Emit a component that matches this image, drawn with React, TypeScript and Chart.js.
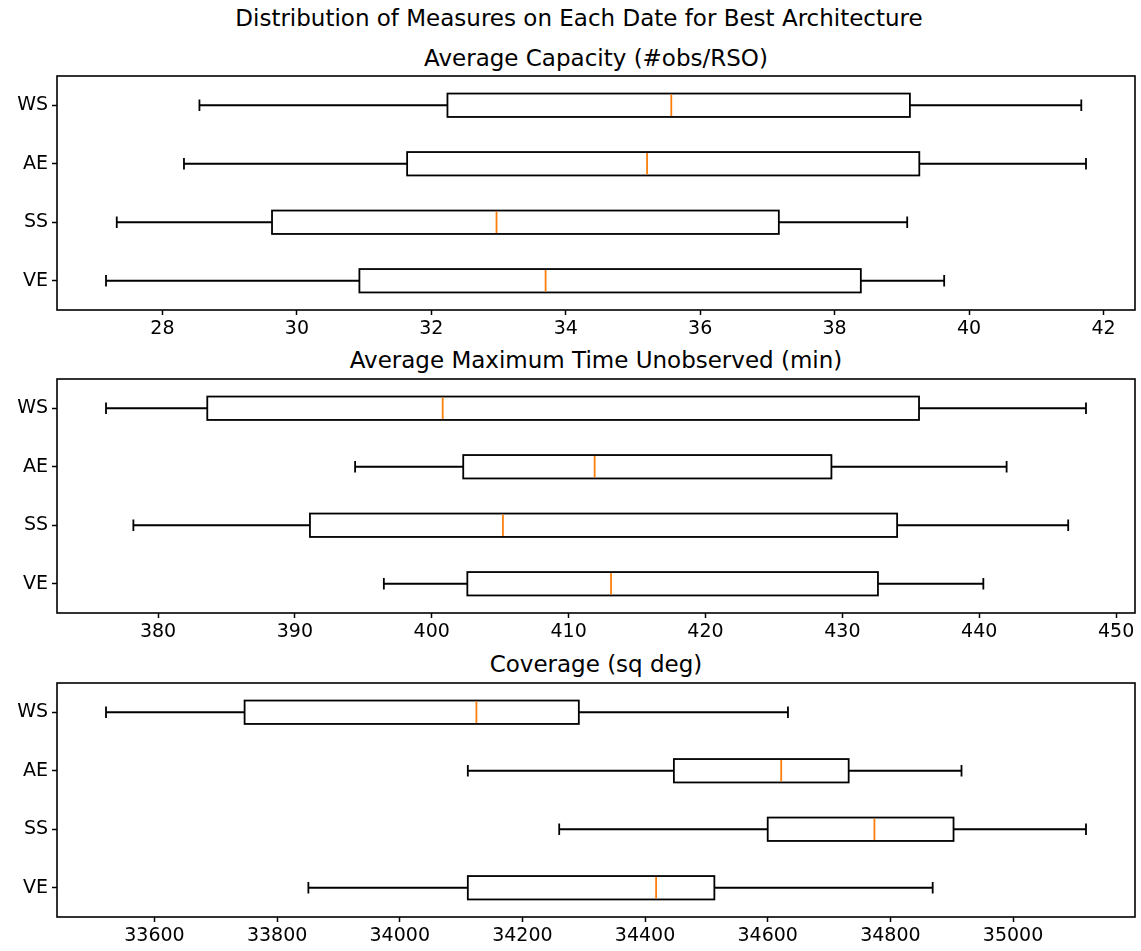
import React, { useEffect, useRef } from 'react';
import { Chart, registerables } from 'chart.js';

Chart.register(...registerables);

const CATEGORIES = ['WS', 'AE', 'SS', 'VE'];

// Average Capacity (#obs/RSO)
const CAP_MIN = [28.55, 28.32, 27.32, 27.16];
const CAP_Q1 = [32.24, 31.64, 29.63, 30.93];
const CAP_MED = [35.57, 35.21, 32.97, 33.7];
const CAP_Q3 = [39.12, 39.26, 37.17, 38.39];
const CAP_MAX = [41.67, 41.74, 39.08, 39.63];
const CAP_TICKS = [28, 30, 32, 34, 36, 38, 40, 42];

// Average Maximum Time Unobserved (min)
const MTU_MIN = [376.2, 394.4, 378.2, 396.5];
const MTU_Q1 = [383.6, 402.3, 391.1, 402.6];
const MTU_MED = [400.8, 411.9, 405.2, 413.1];
const MTU_Q3 = [435.6, 429.2, 434.0, 432.6];
const MTU_MAX = [447.8, 442.0, 446.5, 440.3];
const MTU_TICKS = [380, 390, 400, 410, 420, 430, 440, 450];

// Coverage (sq deg)
const COV_MIN = [33521, 34111, 34260, 33851];
const COV_Q1 = [33747, 34447, 34600, 34111];
const COV_MED = [34125, 34622, 34774, 34418];
const COV_Q3 = [34292, 34732, 34903, 34513];
const COV_MAX = [34633, 34916, 35119, 34869];
const COV_TICKS = [33600, 33800, 34000, 34200, 34400, 34600, 34800, 35000];

const SUPTITLE = 'Distribution of Measures on Each Date for Best Architecture';
const TITLES = ['Average Capacity (#obs/RSO)', 'Average Maximum Time Unobserved (min)', 'Coverage (sq deg)'];

const FIG_W = 1141;
const FIG_H = 951;
const AX_LEFT = 57;
const AX_RIGHT = 1135;
const AX_H = 234;
const PAD_TOP = 4;
const XAXIS_H = 40;
const PANEL_TOPS = [76, 379, 683];
const TITLE_CENTERS = [58, 360, 664];
const FONT = '"DejaVu Sans", sans-serif';
const TICK_SIZE = 19;
const TITLE_SIZE = 23;
const LINE_W = 1.8;

type PanelProps = {
  top: number;
  mins: number[];
  q1: number[];
  med: number[];
  q3: number[];
  maxs: number[];
  ticks: number[];
};

function Panel({ top, mins, q1, med, q3, maxs, ticks }: PanelProps) {
  const ref = useRef<HTMLCanvasElement | null>(null);
  const h = AX_H + PAD_TOP + XAXIS_H;

  useEffect(() => {
    if (!ref.current) return;
    const lo = Math.min(...mins);
    const hi = Math.max(...maxs);
    const margin = (hi - lo) * 0.05;

    const boxPlugin = {
      id: 'boxExtras',
      afterDatasetsDraw(chart: any) {
        const ctx = chart.ctx;
        const xs = chart.scales.x;
        const ys = chart.scales.y;
        const meta = chart.getDatasetMeta(0);
        ctx.save();
        for (let i = 0; i < CATEGORIES.length; i++) {
          const y = ys.getPixelForValue(i);
          const half = meta.data[i].height / 2;
          const capHalf = half / 2;
          const xMin = xs.getPixelForValue(mins[i]);
          const xQ1 = xs.getPixelForValue(q1[i]);
          const xQ3 = xs.getPixelForValue(q3[i]);
          const xMax = xs.getPixelForValue(maxs[i]);
          const xMed = xs.getPixelForValue(med[i]);
          ctx.strokeStyle = '#000';
          ctx.lineWidth = LINE_W;
          ctx.beginPath();
          ctx.moveTo(xMin, y);
          ctx.lineTo(xQ1, y);
          ctx.moveTo(xQ3, y);
          ctx.lineTo(xMax, y);
          ctx.moveTo(xMin, y - capHalf);
          ctx.lineTo(xMin, y + capHalf);
          ctx.moveTo(xMax, y - capHalf);
          ctx.lineTo(xMax, y + capHalf);
          ctx.stroke();
          ctx.strokeRect(xQ1, y - half, xQ3 - xQ1, 2 * half);
          ctx.strokeStyle = '#ff7f0e';
          ctx.beginPath();
          ctx.moveTo(xMed, y - half + LINE_W / 2);
          ctx.lineTo(xMed, y + half - LINE_W / 2);
          ctx.stroke();
        }
        const a = chart.chartArea;
        ctx.strokeStyle = '#000';
        ctx.lineWidth = 1.6;
        ctx.strokeRect(a.left, a.top, a.right - a.left, a.bottom - a.top);
        ctx.restore();
      },
    };

    const chart = new Chart(ref.current, {
      type: 'bar',
      data: {
        labels: CATEGORIES,
        datasets: [
          {
            data: CATEGORIES.map((_, i) => [q1[i], q3[i]]) as any,
            backgroundColor: '#ffffff',
            borderWidth: 0,
            barPercentage: 0.4,
            categoryPercentage: 1,
          },
        ],
      },
      options: {
        indexAxis: 'y',
        responsive: false,
        maintainAspectRatio: false,
        animation: false,
        layout: { autoPadding: false, padding: { top: PAD_TOP, right: FIG_W - AX_RIGHT, left: 0, bottom: 0 } },
        plugins: { legend: { display: false }, tooltip: { enabled: false }, title: { display: false } },
        scales: {
          x: {
            type: 'linear',
            min: lo - margin,
            max: hi + margin,
            afterBuildTicks: (s: any) => {
              s.ticks = ticks.map((v) => ({ value: v }));
            },
            afterFit: (s: any) => {
              s.height = XAXIS_H;
              s.paddingLeft = 0;
              s.paddingRight = 0;
              s.paddingTop = 0;
              s.paddingBottom = 0;
            },
            grid: { drawOnChartArea: false, tickLength: 5, tickColor: '#000', tickWidth: 1.5 },
            border: { display: false },
            ticks: {
              color: '#000',
              font: { family: FONT, size: TICK_SIZE },
              padding: 3,
              maxRotation: 0,
              autoSkip: false,
              callback: (v: any) => String(v),
            },
          },
          y: {
            type: 'category',
            offset: true,
            afterFit: (s: any) => {
              s.width = AX_LEFT;
              s.paddingTop = 0;
              s.paddingBottom = 0;
              s.paddingLeft = 0;
              s.paddingRight = 0;
            },
            grid: { drawOnChartArea: false, offset: false, tickLength: 5, tickColor: '#000', tickWidth: 1.5 },
            border: { display: false },
            ticks: { color: '#000', font: { family: FONT, size: TICK_SIZE }, padding: 4 },
          },
        },
      },
      plugins: [boxPlugin],
    } as any);
    return () => chart.destroy();
  }, []);

  return (
    <canvas
      ref={ref}
      width={FIG_W}
      height={h}
      style={{ position: 'absolute', left: 0, top: top - PAD_TOP, width: FIG_W, height: h }}
    />
  );
}

export default function App() {
  useEffect(() => {
    document.body.style.margin = '0';
  }, []);
  const titleStyle = (cy: number, cx: number): React.CSSProperties => ({
    position: 'absolute',
    left: cx - 500,
    width: 1000,
    top: cy - TITLE_SIZE * 0.6,
    textAlign: 'center',
    fontFamily: FONT,
    fontSize: TITLE_SIZE,
    lineHeight: `${Math.round(TITLE_SIZE * 1.2)}px`,
    color: '#000',
    whiteSpace: 'nowrap',
  });
  const axCenter = (AX_LEFT + AX_RIGHT) / 2;
  return (
    <div style={{ position: 'relative', width: FIG_W, height: FIG_H, background: '#fff', overflow: 'hidden' }}>
      <div style={titleStyle(18, 579)}>{SUPTITLE}</div>
      {TITLES.map((t, i) => (
        <div key={t} style={titleStyle(TITLE_CENTERS[i], axCenter)}>
          {t}
        </div>
      ))}
      <Panel top={PANEL_TOPS[0]} mins={CAP_MIN} q1={CAP_Q1} med={CAP_MED} q3={CAP_Q3} maxs={CAP_MAX} ticks={CAP_TICKS} />
      <Panel top={PANEL_TOPS[1]} mins={MTU_MIN} q1={MTU_Q1} med={MTU_MED} q3={MTU_Q3} maxs={MTU_MAX} ticks={MTU_TICKS} />
      <Panel top={PANEL_TOPS[2]} mins={COV_MIN} q1={COV_Q1} med={COV_MED} q3={COV_Q3} maxs={COV_MAX} ticks={COV_TICKS} />
    </div>
  );
}
